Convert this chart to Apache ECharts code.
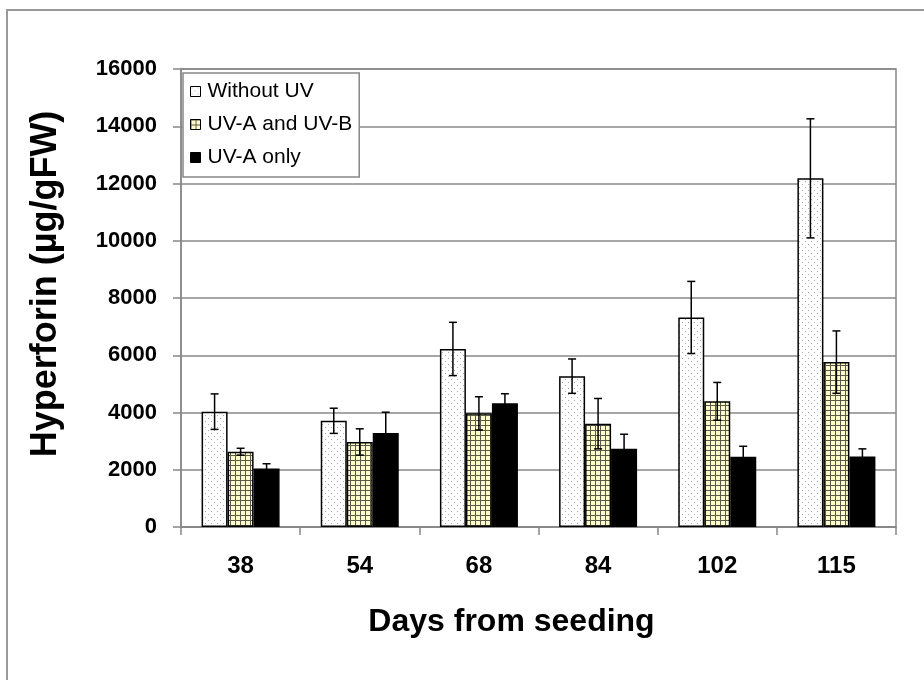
<!DOCTYPE html>
<html>
<head>
<meta charset="utf-8">
<script src="https://cdn.jsdelivr.net/npm/echarts@6/dist/echarts.min.js"></script>
<style>
html,body{margin:0;padding:0;background:#fff;}
#chart{width:924px;height:680px;}
</style>
</head>
<body>
<div id="chart"></div>
<script>
const categories = ['38', '54', '68', '84', '102', '115'];
const seriesNames = ['Without UV', 'UV-A and UV-B', 'UV-A only'];
const withoutUV = [4030, 3710, 6220, 5270, 7320, 12180];
const withoutUVErr = [620, 440, 930, 600, 1260, 2080];
const uvAB = [2630, 2970, 3970, 3610, 4390, 5760];
const uvABErr = [120, 460, 580, 880, 660, 1090];
const uvAOnly = [2040, 3280, 4320, 2730, 2450, 2460];
const uvAOnlyErr = [170, 730, 335, 510, 370, 270];
const yTicks = [0, 2000, 4000, 6000, 8000, 10000, 12000, 14000, 16000];

function dotPattern() {
  const c = document.createElement('canvas');
  c.width = 6; c.height = 6;
  const g = c.getContext('2d');
  g.fillStyle = '#ffffff'; g.fillRect(0, 0, 6, 6);
  g.fillStyle = '#a8a8a8';
  g.fillRect(1, 1, 1, 1);
  g.fillRect(4, 4, 1, 1);
  return c;
}
function gridPattern() {
  const c = document.createElement('canvas');
  c.width = 5; c.height = 5;
  const g = c.getContext('2d');
  g.fillStyle = '#fffccc'; g.fillRect(0, 0, 5, 5);
  g.fillStyle = '#5a5a48';
  g.fillRect(0, 0, 5, 1);
  g.fillRect(0, 0, 1, 5);
  return c;
}
const fills = [
  { image: dotPattern(), repeat: 'repeat' },
  { image: gridPattern(), repeat: 'repeat' },
  '#000000'
];
const values = [withoutUV, uvAB, uvAOnly];
const errs = [withoutUVErr, uvABErr, uvAOnlyErr];
const BAR_W = 26;

const chart = echarts.init(document.getElementById('chart'), null, { renderer: 'canvas' });

const series = [];
values.forEach((vals, i) => {
  series.push({
    name: seriesNames[i],
    type: 'bar',
    data: vals,
    barWidth: BAR_W,
    barGap: '0%',
    itemStyle: { color: fills[i], borderColor: '#000', borderWidth: 1.5 },
    emphasis: { disabled: true },
    z: 2
  });
});
values.forEach((vals, i) => {
  series.push({
    type: 'custom',
    name: seriesNames[i] + ' err',
    data: vals.map((v, k) => [k, v, errs[i][k]]),
    encode: { x: 0, y: 1 },
    z: 5,
    silent: true,
    renderItem: function (params, api) {
      const k = api.value(0), v = api.value(1), e = api.value(2);
      const off = (i - 1) * BAR_W;
      const top = api.coord([k, v + e]);
      const bot = api.coord([k, v - e]);
      const x = top[0] + off;
      const cap = 4;
      const st = { stroke: '#000', lineWidth: 1.5 };
      return {
        type: 'group',
        children: [
          { type: 'line', shape: { x1: x, y1: top[1], x2: x, y2: bot[1] }, style: st },
          { type: 'line', shape: { x1: x - cap, y1: top[1], x2: x + cap, y2: top[1] }, style: st },
          { type: 'line', shape: { x1: x - cap, y1: bot[1], x2: x + cap, y2: bot[1] }, style: st }
        ]
      };
    }
  });
});

const option = {
  animation: false,
  backgroundColor: '#ffffff',
  textStyle: { fontFamily: 'Liberation Sans, Arial, sans-serif' },
  graphic: [{
    type: 'rect',
    shape: { x: 7, y: 10, width: 940, height: 700 },
    style: { fill: 'none', stroke: '#999', lineWidth: 2 },
    silent: true
  }],
  grid: {
    left: 181, right: 28, top: 69, bottom: 153,
    show: true, borderColor: '#888', borderWidth: 1.5, backgroundColor: 'transparent'
  },
  legend: {
    orient: 'vertical',
    left: 183, top: 73,
    data: seriesNames.map((n, i) => ({ name: n, itemStyle: { color: fills[i], borderColor: '#000', borderWidth: 1 } })),
    icon: 'rect',
    itemWidth: 10, itemHeight: 10,
    itemGap: 12,
    padding: [8, 7, 9, 7],
    backgroundColor: '#fff',
    borderColor: '#888', borderWidth: 1.5,
    textStyle: { fontSize: 21, color: '#000', fontFamily: 'Liberation Sans, Arial, sans-serif', padding: [0, 0, 0, 2] },
    selectedMode: false
  },
  xAxis: {
    type: 'category',
    data: categories,
    name: 'Days from seeding',
    nameLocation: 'middle',
    nameGap: 79,
    nameTextStyle: { fontSize: 32, fontWeight: 'bold', color: '#000', padding: [0, 54, 0, 0] },
    axisLine: { lineStyle: { color: '#888', width: 1.5 } },
    axisTick: { show: true, length: 8, lineStyle: { color: '#888', width: 1.5 }, alignWithLabel: false },
    axisLabel: { fontSize: 24, fontWeight: 'bold', color: '#000', margin: 27 }
  },
  yAxis: {
    type: 'value',
    min: 0, max: 16000, interval: 2000,
    name: 'Hyperforin (µg/gFW)',
    nameLocation: 'middle',
    nameGap: 117,
    nameRotate: 90,
    nameTextStyle: { fontSize: 36, fontWeight: 'bold', color: '#000', padding: [0, 0, 0, 28] },
    axisLine: { show: true, lineStyle: { color: '#888', width: 1.5 } },
    axisTick: { show: true, length: 8, lineStyle: { color: '#888', width: 1.5 } },
    splitLine: { show: true, lineStyle: { color: '#888', width: 1.5 } },
    axisLabel: {
      fontSize: 22, fontWeight: 'bold', color: '#000', margin: 24,
      formatter: v => yTicks.indexOf(v) >= 0 ? String(v) : ''
    }
  },
  series: series
};
chart.setOption(option);
</script>
</body>
</html>
